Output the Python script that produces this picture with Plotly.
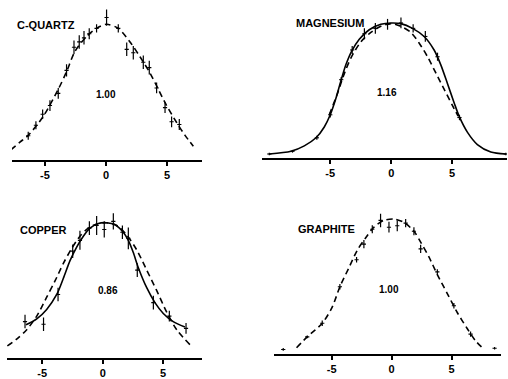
import plotly.graph_objects as go

# ---------------- C-QUARTZ ----------------
qz_fit_x = [-7.79, -7.05, -6.37, -5.14, -3.91, -3.23, -2.54, -1.59, -0.77, 0.05, 1.01, 1.97, 2.79, 3.61, 4.29, 4.97, 5.79, 6.48, 7.16]
qz_fit_y = [0.073, 0.13, 0.18, 0.32, 0.52, 0.65, 0.80, 0.91, 0.97, 1.0, 0.97, 0.87, 0.76, 0.64, 0.52, 0.40, 0.275, 0.18, 0.10]
qz_x = [-6.37, -5.74, -5.19, -4.59, -3.91, -3.23, -2.62, -2.19, -1.80, -1.37, -0.77, 0.05, 1.01, 1.70, 2.24, 3.06, 3.55, 4.15, 4.84, 5.38, 6.01]
qz_y = [0.177, 0.255, 0.336, 0.40, 0.49, 0.66, 0.83, 0.87, 0.90, 0.93, 0.97, 1.05, 0.97, 0.815, 0.79, 0.72, 0.68, 0.53, 0.385, 0.28, 0.26]
qz_err = [0.03, 0.03, 0.035, 0.04, 0.04, 0.045, 0.05, 0.05, 0.05, 0.04, 0.03, 0.06, 0.03, 0.05, 0.05, 0.05, 0.05, 0.04, 0.04, 0.04, 0.04]

# ---------------- MAGNESIUM ----------------
mg_solid_x = [-10.0, -8.22, -7.13, -6.17, -5.49, -5.0, -4.54, -4.13, -3.72, -3.25, -2.62, -1.80, -0.85, 0.0, 0.79, 1.75, 2.70, 3.52, 4.07, 4.62, 5.16, 5.57, 6.26, 7.07, 8.17, 9.40]
mg_solid_y = [0.03, 0.05, 0.09, 0.15, 0.23, 0.32, 0.44, 0.57, 0.69, 0.79, 0.88, 0.95, 0.99, 1.0, 0.995, 0.96, 0.90, 0.80, 0.69, 0.55, 0.41, 0.31, 0.19, 0.10, 0.045, 0.03]
mg_dash_x = [-5.08, -4.40, -3.91, -3.31, -2.49, -1.67, -0.85, 0.0, 0.79, 1.61, 2.30, 2.98, 3.66, 4.34, 5.02, 5.49]
mg_dash_y = [0.32, 0.48, 0.61, 0.74, 0.86, 0.93, 0.975, 0.995, 0.975, 0.93, 0.85, 0.75, 0.63, 0.51, 0.39, 0.31]
mg_x = [-10.0, -8.1, -6.1, -5.0, -4.1, -3.2, -2.2, -1.3, -0.3, 0.8, 1.8, 2.8, 3.8, 5.6, 9.4]
mg_y = [0.03, 0.05, 0.15, 0.32, 0.58, 0.80, 0.92, 0.96, 0.99, 1.0, 0.96, 0.90, 0.75, 0.30, 0.03]
mg_err = [0.01, 0.01, 0.015, 0.02, 0.02, 0.03, 0.04, 0.04, 0.04, 0.04, 0.03, 0.04, 0.03, 0.02, 0.01]

# ---------------- COPPER ----------------
cu_solid_x = [-6.34, -5.45, -4.63, -3.80, -3.25, -2.70, -2.15, -1.60, -1.05, -0.36, 0.33, 1.02, 1.70, 2.12, 2.53, 2.94, 3.64, 4.32, 5.01, 5.83, 6.80]
cu_solid_y = [0.246, 0.29, 0.36, 0.47, 0.59, 0.72, 0.82, 0.90, 0.96, 0.995, 1.0, 0.985, 0.93, 0.87, 0.78, 0.67, 0.52, 0.41, 0.33, 0.27, 0.23]
cu_dash_x = [-7.88, -7.11, -6.28, -5.45, -4.63, -3.94, -3.25, -2.56, -1.88, -1.19, -0.50, 0.33, 1.16, 1.98, 2.81, 3.64, 4.46, 5.29, 6.12, 7.21]
cu_dash_y = [0.09, 0.14, 0.21, 0.31, 0.45, 0.57, 0.70, 0.81, 0.90, 0.96, 0.99, 1.0, 0.98, 0.91, 0.80, 0.65, 0.50, 0.34, 0.21, 0.10]
cu_x = [-6.42, -4.89, -3.69, -2.48, -1.88, -1.10, -0.50, 0.13, 0.88, 1.63, 2.12, 2.86, 4.19, 5.51, 6.89]
cu_y = [0.27, 0.25, 0.47, 0.79, 0.87, 0.96, 0.98, 0.95, 1.01, 0.93, 0.885, 0.65, 0.41, 0.31, 0.22]
cu_err = [0.05, 0.05, 0.05, 0.05, 0.07, 0.05, 0.07, 0.06, 0.06, 0.05, 0.08, 0.05, 0.05, 0.04, 0.04]

# ---------------- GRAPHITE ----------------
gr_fit_x = [-7.92, -7.03, -5.78, -4.95, -4.31, -3.56, -2.86, -2.17, -1.47, -0.64, 0.19, 1.03, 1.86, 2.42, 3.11, 3.81, 4.64, 5.47, 6.31, 7.0, 7.69]
gr_fit_y = [0.05, 0.13, 0.23, 0.35, 0.50, 0.64, 0.77, 0.86, 0.94, 0.99, 1.0, 0.975, 0.91, 0.83, 0.72, 0.59, 0.45, 0.31, 0.19, 0.10, 0.04]
gr_x = [-9.03, -7.03, -5.78, -4.31, -2.92, -2.31, -1.61, -0.92, -0.22, 0.47, 1.17, 1.86, 2.42, 3.81, 5.19, 6.58, 8.58]
gr_y = [0.037, 0.13, 0.23, 0.50, 0.70, 0.815, 0.925, 0.99, 0.94, 0.95, 0.97, 0.91, 0.78, 0.61, 0.36, 0.15, 0.046]
gr_err = [0.01, 0.01, 0.02, 0.02, 0.02, 0.03, 0.03, 0.05, 0.04, 0.04, 0.03, 0.03, 0.03, 0.02, 0.02, 0.02, 0.01]

W, H = 508, 379
UNIT = 136.5
YMAX = 1.17
FONT = "Liberation Sans"

panels = [
    dict(ax="", xpx=(12, 202), xr=(-7.70, 7.87), ypx=161),
    dict(ax="2", xpx=(262, 507), xr=(-10.6, 9.5), ypx=159.3),
    dict(ax="3", xpx=(7, 202), xr=(-7.91, 8.21), ypx=361),
    dict(ax="4", xpx=(274, 500.7), xr=(-9.8, 9.09), ypx=357.3),
]

fig = go.Figure()

def add_points(ax, xs, ys, errs):
    fig.add_trace(go.Scatter(
        x=xs, y=ys, mode="markers",
        marker=dict(symbol="line-ew-open", size=3, color="black", line=dict(width=1.1, color="black")),
        error_y=dict(type="data", array=errs, visible=True, color="black", thickness=1.2, width=0),
        xaxis="x" + ax, yaxis="y" + ax, showlegend=False, hoverinfo="skip"))

def add_line(ax, xs, ys, dash):
    fig.add_trace(go.Scatter(
        x=xs, y=ys, mode="lines", line=dict(color="black", width=1.6, dash=dash, shape="spline", smoothing=0.8),
        xaxis="x" + ax, yaxis="y" + ax, showlegend=False, hoverinfo="skip"))

add_line("", qz_fit_x, qz_fit_y, "6px,4px")
add_points("", qz_x, qz_y, qz_err)

add_line("2", mg_solid_x, mg_solid_y, "solid")
add_line("2", mg_dash_x, mg_dash_y, "6px,4px")
add_points("2", mg_x, mg_y, mg_err)

add_line("3", cu_solid_x, cu_solid_y, "solid")
add_line("3", cu_dash_x, cu_dash_y, "6px,4px")
add_points("3", cu_x, cu_y, cu_err)

add_line("4", gr_fit_x, gr_fit_y, "6px,4px")
add_points("4", gr_x, gr_y, gr_err)

layout = dict(
    width=W, height=H, margin=dict(l=0, r=0, t=0, b=0),
    paper_bgcolor="white", plot_bgcolor="white", showlegend=False,
    font=dict(family=FONT, color="black"),
)
for p in panels:
    a = p["ax"]
    ybot = 1 - p["ypx"] / H
    ytop = 1 - (p["ypx"] - YMAX * UNIT) / H
    layout["xaxis" + a] = dict(
        domain=[p["xpx"][0] / W, p["xpx"][1] / W], range=list(p["xr"]),
        anchor="y" + a, showline=True, linecolor="black", linewidth=1.6,
        showgrid=False, zeroline=False, tickvals=[-5, 0, 5], ticktext=["-5", "0", "5"],
        ticks="outside", ticklen=4, tickwidth=1.5, tickcolor="black",
        tickfont=dict(family=FONT, size=11, color="black", weight="bold"), fixedrange=True)
    layout["yaxis" + a] = dict(
        domain=[ybot, min(ytop, 1.0)], range=[0, YMAX], anchor="x" + a,
        visible=False, showgrid=False, zeroline=False, fixedrange=True)

fig.update_layout(**layout)

labels = [
    ("C-QUARTZ", "", -7.46, 0.996, "left"),
    ("1.00", "", 0.0, 0.48, "center"),
    ("MAGNESIUM", "2", -7.95, 1.0, "left"),
    ("1.16", "2", -0.33, 0.486, "center"),
    ("COPPER", "3", -7.0, 0.947, "left"),
    ("0.86", "3", 0.4, 0.50, "center"),
    ("GRAPHITE", "4", -7.97, 0.93, "left"),
    ("1.00", "4", -0.22, 0.48, "center"),
]
for text, a, x, y, anc in labels:
    big = not text[0].isdigit()
    fig.add_annotation(
        text=text, x=x, y=y, xref="x" + a, yref="y" + a, xanchor=anc, yanchor="middle",
        showarrow=False, font=dict(family=FONT, size=11 if big else 10, color="black", weight="bold"))

fig.write_html("out.html")
